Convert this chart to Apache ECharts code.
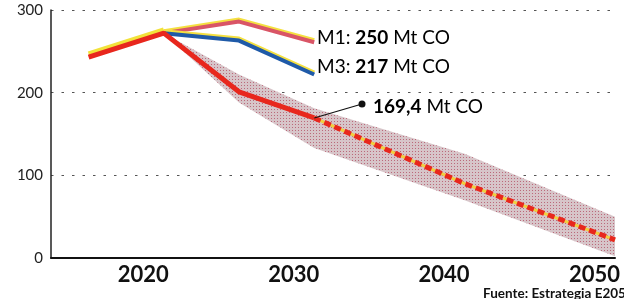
<!DOCTYPE html>
<html>
<head>
<meta charset="utf-8">
<script src="https://cdn.jsdelivr.net/npm/echarts@6/dist/echarts.min.js"></script>
<style>
  html, body { margin: 0; padding: 0; background: #fff; }
  #chart { width: 624px; height: 299px; }
</style>
</head>
<body>
<div id="chart"></div>
<script>
const yearTicks = [2020, 2030, 2040, 2050]
const yTicks = [0, 100, 200, 300]
// emisiones (Mt CO2)
const history = [[2015, 243], [2020, 272], [2025, 201], [2030, 169.4]]
const historyGlow = [[2015, 247], [2020, 276]]
const projection = [[2030, 169.4], [2040, 90], [2050, 22]]
const m1 = [[2020, 272], [2025, 286], [2030, 261]]
const m3 = [[2020, 272], [2025, 263], [2030, 222]]
const bandYears = [2020, 2025, 2030, 2040, 2050]
const bandLow = [272, 188, 133, 70, 2]
const bandHigh = [272, 222, 181, 126, 50]

const font = 'Lato'

// halftone dots for the band
function dots() {
  const c = document.createElement('canvas')
  c.width = 3
  c.height = 3
  const g = c.getContext('2d')
  g.fillStyle = 'rgba(212,192,196,0.92)'
  g.fillRect(0, 0, 3, 3)
  g.fillStyle = 'rgba(185,100,118,0.95)'
  g.fillRect(1, 1, 1, 1)
  return c
}
const bandFill = { image: dots(), repeat: 'repeat' }

const chart = echarts.init(document.getElementById('chart'))

const glow = { shadowColor: '#f4e040', shadowOffsetY: -2, shadowBlur: 0 }

chart.setOption({
  animation: false,
  grid: { left: 51, right: 9, top: 10, bottom: 41 },
  xAxis: {
    type: 'value',
    min: 2012.5,
    max: 2050,
    axisLine: { lineStyle: { color: '#111', width: 2 } },
    axisTick: { show: false },
    splitLine: { show: false },
    axisLabel: {
      customValues: yearTicks,
      align: 'right',
      margin: 6,
      padding: [0, -5, 0, 0],
      fontFamily: font,
      fontWeight: 'bold',
      fontSize: 22,
      color: '#111',
      formatter: v => String(v)
    }
  },
  yAxis: {
    type: 'value',
    min: 0,
    max: 300,
    interval: 100,
    axisLine: { show: true, lineStyle: { color: '#222', width: 1.5 } },
    axisTick: { show: false },
    splitLine: { lineStyle: { color: '#555', width: 1, type: [2.5, 8] } },
    axisLabel: {
      customValues: yTicks,
      margin: 8,
      fontFamily: font,
      fontSize: 15,
      color: '#222'
    }
  },
  series: [
    {
      // banda de incertidumbre
      type: 'custom',
      data: [0],
      z: 1,
      renderItem: (params, api) => {
        const top = bandYears.map((y, i) => api.coord([y, bandHigh[i]]))
        const bottom = bandYears.map((y, i) => api.coord([y, bandLow[i]])).reverse()
        return {
          type: 'polygon',
          shape: { points: top.concat(bottom) },
          style: { fill: bandFill }
        }
      }
    },
    {
      type: 'line',
      data: m1,
      symbol: 'none',
      lineStyle: Object.assign({ color: '#d95566', width: 4 }, glow),
      z: 3
    },
    {
      type: 'line',
      data: m3,
      symbol: 'none',
      lineStyle: Object.assign({ color: '#1f5aa8', width: 4 }, glow),
      z: 3
    },
    {
      type: 'line',
      data: historyGlow,
      symbol: 'none',
      lineStyle: { color: '#f2e23a', width: 5 },
      z: 4
    },
    {
      type: 'line',
      data: history,
      symbol: 'none',
      lineStyle: { color: '#e8271d', width: 5 },
      z: 5
    },
    {
      type: 'line',
      data: projection,
      symbol: 'none',
      lineStyle: { color: '#f0d040', width: 3 },
      z: 4
    },
    {
      type: 'line',
      data: projection,
      symbol: 'none',
      lineStyle: { color: '#e8271d', width: 5, type: [7, 4] },
      z: 5
    }
  ]
})

const anchor = chart.convertToPixel({ gridIndex: 0 }, projection[0])
const rich = {
  r: { fontFamily: font, fontSize: 19, color: '#222' },
  b: { fontFamily: font, fontSize: 19, fontWeight: 'bold', color: '#111' }
}

chart.setOption({
  graphic: [
    {
      type: 'text', x: 317, y: 38, z: 10,
      style: { text: '{r|M1: }{b|250}{r| Mt CO}', rich, verticalAlign: 'middle' }
    },
    {
      type: 'text', x: 317, y: 67, z: 10,
      style: { text: '{r|M3: }{b|217}{r| Mt CO}', rich, verticalAlign: 'middle' }
    },
    {
      type: 'line', z: 10,
      shape: { x1: anchor[0], y1: anchor[1], x2: 362, y2: 104 },
      style: { stroke: '#111', lineWidth: 1.2 }
    },
    {
      type: 'circle', z: 10,
      shape: { cx: 362, cy: 104, r: 3.5 },
      style: { fill: '#111' }
    },
    {
      type: 'text', x: 373, y: 107, z: 10,
      style: { text: '{b|169,4}{r| Mt CO}', rich, verticalAlign: 'middle' }
    },
    {
      type: 'text', x: 483, y: 294, z: 10,
      style: {
        text: 'Fuente: Estrategia E2050',
        fontFamily: font, fontSize: 13.5, fontWeight: 'bold', fill: '#111',
        verticalAlign: 'middle'
      }
    }
  ]
})
</script>
</body>
</html>
